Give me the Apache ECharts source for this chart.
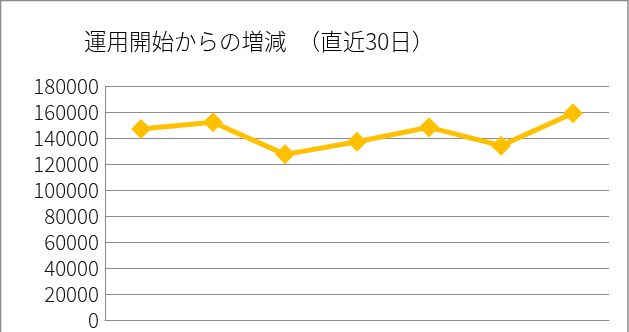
<!DOCTYPE html>
<html>
<head>
<meta charset="utf-8">
<script src="https://cdn.jsdelivr.net/npm/echarts@6/dist/echarts.min.js"></script>
<style>
html,body{margin:0;padding:0;background:#fff;}
#c{width:629px;height:332px;}
</style>
</head>
<body>
<div id="c"></div>
<script>
const titleText = '運用開始からの増減　（直近30日）';
const categories = ['1', '2', '3', '4', '5', '6', '7'];
const values = [147300, 152500, 127800, 137500, 148600, 134500, 159400];
const yTicks = { min: 0, max: 180000, interval: 20000 };

const chart = echarts.init(document.getElementById('c'), null, { renderer: 'canvas' });
chart.setOption({
  animation: false,
  backgroundColor: '#ffffff',
  title: {
    text: titleText,
    left: 79,
    top: 25,
    textStyle: { fontFamily: 'Noto Sans CJK JP', fontSize: 22.5, fontWeight: 300, color: '#000' }
  },
  graphic: [
    { type: 'rect', shape: { x: 0.5, y: 0.5, width: 627.5, height: 340 }, style: { fill: 'none', stroke: '#8c8c8c', lineWidth: 1.5 }, z: 100 }
  ],
  grid: { left: 105, right: 20, top: 86.5, bottom: 11.5, containLabel: false },
  xAxis: {
    type: 'category',
    data: categories,
    boundaryGap: true,
    axisLine: { show: true, lineStyle: { color: '#8c8c8c', width: 1 } },
    axisTick: { show: false },
    axisLabel: { show: false },
    splitLine: { show: false }
  },
  yAxis: {
    type: 'value',
    min: yTicks.min, max: yTicks.max, interval: yTicks.interval,
    axisLine: { show: true, lineStyle: { color: '#8c8c8c', width: 1 } },
    axisTick: { show: false },
    axisLabel: { fontFamily: 'Noto Sans CJK JP', fontSize: 20.5, fontWeight: 300, color: '#111', margin: 6, formatter: v => String(v) },
    splitLine: { show: true, lineStyle: { color: '#8c8c8c', width: 1 } }
  },
  series: [{
    type: 'line',
    data: values,
    symbol: 'diamond',
    symbolSize: 20,
    lineStyle: { color: '#FFC000', width: 5 },
    itemStyle: { color: '#FFC000' }
  }]
});
</script>
</body>
</html>
